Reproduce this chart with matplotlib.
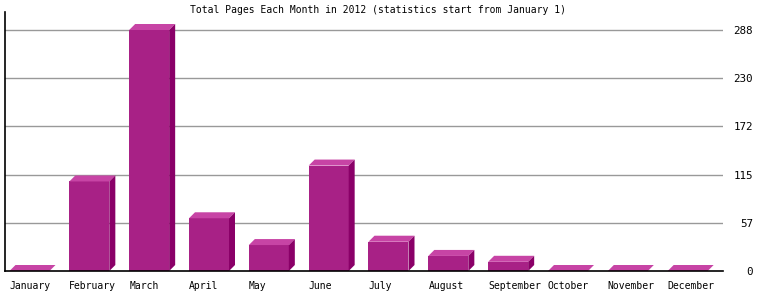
import matplotlib
matplotlib.use("Agg")
import matplotlib.pyplot as plt
import numpy as np

months = ["January", "February", "March", "April", "May", "June", "July",
          "August", "September", "October", "November", "December"]
pages = [0, 107, 288, 63, 31, 126, 35, 18, 11, 0, 0, 0]
tick_values = [0, 57.6, 115.2, 172.8, 230.4, 288]
tick_labels = ["0", "57", "115", "172", "230", "288"]
title = "Total Pages Each Month in 2012 (statistics start from January 1)"

W, H = 760, 300
fig = plt.figure(figsize=(W / 100, H / 100), dpi=100)
fig.patch.set_facecolor("white")
ax_left, ax_right, ax_top, ax_bot = 5, 723, 12, 271
ax = fig.add_axes([ax_left / W, 1 - ax_bot / H, (ax_right - ax_left) / W, (ax_bot - ax_top) / H])

px_per_val = (271 - 30) / 288.0
ymax = (ax_bot - ax_top) / px_per_val
ax.set_xlim(0, 12)
ax.set_ylim(0, ymax)

slot_px = (ax_right - ax_left) / 12.0
off = 4.5 / slot_px
bw = 40 / slot_px
dx = 6 / slot_px
dy = 6 / px_per_val

front = "#a82186"
topc = "#c744a5"
side = "#8a0068"

ax.set_axisbelow(True)
for t in tick_values[1:]:
    ax.axhline(t, color="#999999", lw=1.0, zorder=0)

x = np.arange(12) + off
ax.bar(x, pages, width=bw, align="edge", color=front, lw=0, zorder=3)
for xi, v in zip(x, pages):
    x1 = xi + bw
    ax.fill([xi, xi + dx, x1 + dx, x1], [v, v + dy, v + dy, v], color=topc, lw=0, zorder=3)
    ax.fill([x1, x1 + dx, x1 + dx, x1], [0, dy, v + dy, v], color=side, lw=0, zorder=3)

for s in ["top", "right"]:
    ax.spines[s].set_visible(False)
ax.spines["left"].set_color("black")
ax.spines["bottom"].set_color("black")
ax.spines["left"].set_linewidth(1.2)
ax.spines["bottom"].set_linewidth(1.2)
ax.spines["bottom"].set_zorder(5)

ax.yaxis.tick_right()
ax.set_yticks(tick_values)
ax.set_yticklabels(tick_labels, fontfamily="DejaVu Sans Mono", fontsize=7.8, ha="right")
ax.tick_params(axis="y", length=0, pad=30 * 0.72)

ax.set_xticks(x)
ax.set_xticklabels(months, fontfamily="DejaVu Sans Mono", fontsize=7, ha="left")
ax.tick_params(axis="x", length=0, pad=7)

fig.text(378 / W, 1 - 10 / H, title, ha="center", va="center",
         fontfamily="DejaVu Sans Mono", fontsize=7)

fig.savefig("out.png", dpi=100, facecolor="white")
